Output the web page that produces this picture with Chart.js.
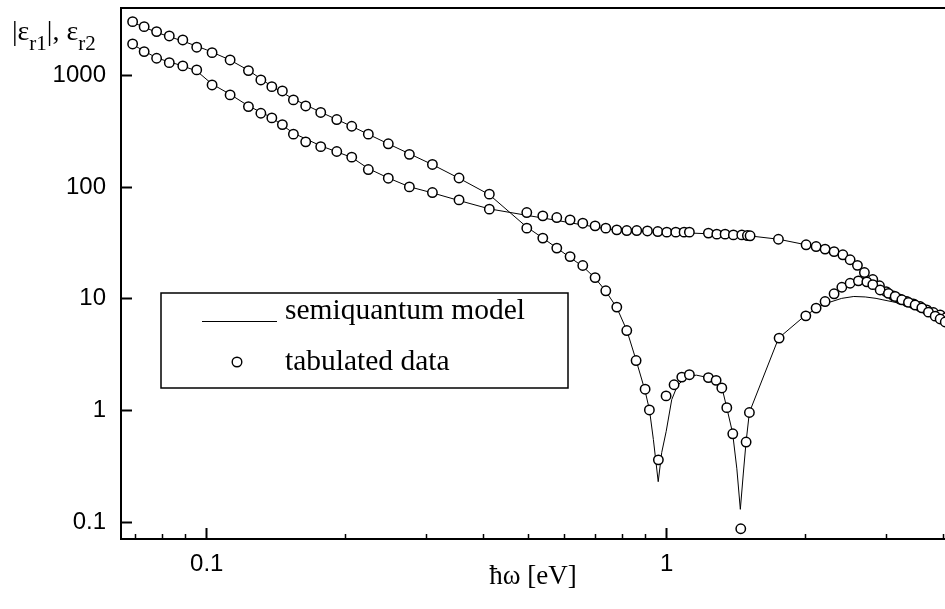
<!DOCTYPE html>
<html>
<head>
<meta charset="utf-8">
<script src="https://cdn.jsdelivr.net/npm/chart.js@4.4.1/dist/chart.umd.min.js"></script>
<style>
html,body{margin:0;padding:0;background:#fff;overflow:hidden}
canvas{display:block}
</style>
</head>
<body>
<canvas id="c" width="945" height="609"></canvas>
<script>
// ---- data (photon energy in eV) ----
const eps1Energy = [0.0690,0.0731,0.0778,0.0829,0.0887,0.0951,0.1027,0.1124,0.1232,0.1311,0.1385,0.1460,0.1543,0.1641,0.1769,0.1917,0.2066,0.2245,0.2481,0.2757,0.3094,0.3535,0.4114,0.4962,0.5376,0.5766,0.6163,0.6567,0.6985,0.7369,0.7786,0.8185,0.8576,0.8972,0.9166,0.9588,0.9965,1.0372,1.0780,1.1198,1.2315,1.2800,1.3170,1.3503,1.3914,1.4481,1.4874,1.5121,1.7545,2.0055,2.1115,2.2085,2.3102,2.4017,2.5032,2.6093,2.7216,2.8043,2.9092,3.0326,3.1365,3.2436,3.3523,3.4666,3.5843,3.7053,3.8318,3.9285,4.03];
const eps1Values = [3046,2748,2479,2267,2087,1797,1607,1382,1109,915,797,729,606,535,468,404,352,299,245,197,160,121,86.7,43.0,35.0,28.5,23.9,19.9,15.5,11.8,8.43,5.20,2.80,1.55,1.01,0.361,1.35,1.70,1.99,2.09,1.97,1.86,1.59,1.06,0.618,0.0871,0.521,0.959,4.45,7.04,8.26,9.46,11.1,12.7,13.8,14.5,14.2,13.4,12.0,11.2,10.5,9.8,9.3,8.8,8.3,7.6,7.0,6.6,6.2];

const eps2Energy = [0.0690,0.0731,0.0778,0.0829,0.0887,0.0951,0.1027,0.1124,0.1232,0.1311,0.1385,0.1460,0.1543,0.1641,0.1769,0.1917,0.2066,0.2245,0.2481,0.2757,0.3094,0.3535,0.4114,0.4962,0.5376,0.5766,0.6163,0.6567,0.6985,0.7369,0.7786,0.8185,0.8604,0.9076,0.9560,1.0000,1.0461,1.0904,1.1198,1.2315,1.2844,1.3389,1.3956,1.4555,1.4969,1.5173,1.7486,2.0085,2.1115,2.2085,2.3102,2.4140,2.5032,2.5966,2.6890,2.8043,2.8993,2.9978,3.1098,3.2160,3.3256,3.4370,3.5536,3.6744,3.7976,3.9285,4.05];
const eps2Values = [1923,1641,1431,1307,1222,1125,825,672,528,460,418,364,299,255,231,209,186,144,120.5,100.7,89.6,77.0,63.6,59.3,55.4,53.5,51.0,47.6,45.1,43.0,41.5,40.9,40.9,40.6,40.1,39.6,39.6,39.6,39.6,38.8,38.0,38.0,37.4,37.4,36.9,36.7,34.2,30.5,29.4,27.9,26.5,24.8,22.4,19.95,17.2,14.9,13.1,11.6,10.6,9.95,9.46,9.02,8.53,7.97,7.54,7.19,6.8];

const model1Energy = [0.069,0.078,0.089,0.100,0.112,0.123,0.138,0.154,0.177,0.207,0.248,0.309,0.354,0.411,0.496,0.538,0.577,0.616,0.657,0.699,0.737,0.779,0.819,0.858,0.897,0.917,0.935,0.958,0.975,0.997,1.025,1.054,1.09,1.12,1.16,1.23,1.28,1.32,1.35,1.39,1.42,1.445,1.467,1.487,1.512,1.75,2.0,2.2,2.4,2.55,2.7,2.85,2.95,3.1,3.25,3.4,3.6,3.8,4.05];
const model1Values = [3000,2430,2030,1700,1390,1120,810,620,470,350,245,160,120,86,44,35,28.5,23.5,19.5,15.3,11.7,8.3,5.2,2.8,1.5,1.01,0.55,0.23,0.42,0.65,1.25,1.66,1.92,2.04,2.07,1.97,1.84,1.56,1.06,0.63,0.30,0.13,0.275,0.52,0.96,4.45,7.1,9.0,10.1,10.5,10.4,10.1,9.8,9.4,9.0,8.6,8.0,7.3,6.5];

const model2Energy = [0.069,0.0778,0.0887,0.0951,0.1027,0.1124,0.1232,0.1385,0.1543,0.1769,0.2066,0.2245,0.2481,0.2757,0.3094,0.3535,0.4114,0.4962,0.5376,0.5766,0.6163,0.6567,0.6985,0.7369,0.7786,0.82,0.9,1.0,1.12,1.23,1.34,1.45,1.52,1.75,2.0,2.2,2.4,2.5,2.6,2.69,2.8,2.9,3.0,3.11,3.22,3.33,3.44,3.55,3.67,3.8,3.93,4.05];
const model2Values = [1900,1440,1220,1100,840,680,535,420,305,235,185,147,121,101,89,76,64,56,53,50.5,48,46,44,42.5,41.3,40.6,40.0,39.4,38.9,38.3,37.7,37.1,36.6,34.2,30.6,28.0,24.9,22.5,20.0,17.3,15.0,13.1,11.6,10.6,9.9,9.4,9.0,8.5,8.0,7.5,7.1,6.7];

const xMajorTicks = [0.1, 1];
const xMajorLabels = ['0.1', '1'];
const xMinorTicks = [0.07,0.08,0.09,0.2,0.3,0.4,0.5,0.6,0.7,0.8,0.9,2,3,4];
const yTicks = [0.1, 1, 10, 100, 1000];
const yTickLabels = ['0.1', '1', '10', '100', '1000'];
const xMin = 0.0651, xMax = 4.025;
const yMin = 0.0705, yMax = 4036;
const xTitle = 'ħω [eV]';
const legendLabels = ['semiquantum model', 'tabulated data'];
const yTitleParts = [['|ε', 'r1'], ['|, ε', 'r2']];

const SERIF = '"Liberation Serif", "Times New Roman", serif';
const SANS = '"Liberation Sans", Arial, sans-serif';

const pts = (xs, ys) => xs.map((x, i) => ({x: x, y: ys[i]}));
const noPad = s => { s.paddingTop = 0; s.paddingBottom = 0; s.paddingLeft = 0; s.paddingRight = 0; };

const circleStyle = {
  showLine: false, pointRadius: 4.7, pointHoverRadius: 4.7, pointBorderWidth: 1.5,
  pointBackgroundColor: '#fff', pointBorderColor: '#000', pointStyle: 'circle'
};
const lineStyle = {
  type: 'line', showLine: true, borderColor: '#000', borderWidth: 1, pointRadius: 0,
  tension: 0, fill: false
};

const boxLegend = {
  id: 'boxLegend',
  afterDatasetsDraw(chart, args, o) {
    const ctx = chart.ctx, a = chart.chartArea;
    const x0 = a.left + o.left, y0 = a.top + o.top;
    ctx.save();
    ctx.fillStyle = '#fff';
    ctx.fillRect(x0, y0, o.width, o.height);
    ctx.strokeStyle = '#000';
    ctx.lineWidth = 1.5;
    ctx.strokeRect(x0, y0, o.width, o.height);
    // line sample
    ctx.lineWidth = 1;
    ctx.beginPath();
    ctx.moveTo(x0 + 41, y0 + 28.5);
    ctx.lineTo(x0 + 116, y0 + 28.5);
    ctx.stroke();
    // circle sample
    ctx.lineWidth = 1.4;
    ctx.beginPath();
    ctx.arc(x0 + 76, y0 + 69, 4.8, 0, Math.PI * 2);
    ctx.fillStyle = '#fff';
    ctx.fill();
    ctx.stroke();
    ctx.fillStyle = '#000';
    ctx.font = '29.5px ' + SERIF;
    ctx.textBaseline = 'alphabetic';
    ctx.textAlign = 'left';
    ctx.fillText(legendLabels[0], x0 + 124, y0 + 26);
    ctx.fillText(legendLabels[1], x0 + 124, y0 + 77);
    ctx.restore();
  }
};

const yTitlePlugin = {
  id: 'yTitle',
  afterDraw(chart) {
    const ctx = chart.ctx;
    ctx.save();
    ctx.fillStyle = '#000';
    ctx.textBaseline = 'alphabetic';
    ctx.textAlign = 'left';
    let x = 12;
    const base = 40;
    yTitleParts.forEach(([main, sub], k) => {
      ctx.font = '28px ' + SERIF;
      ctx.fillText(main, x, base);
      x += ctx.measureText(main).width;
      ctx.font = '21px ' + SERIF;
      ctx.fillText(sub, x, base + 10);
      x += ctx.measureText(sub).width;
    });
    ctx.restore();
  }
};

new Chart(document.getElementById('c'), {
  type: 'scatter',
  data: {
    datasets: [
      Object.assign({label: 'tabulated |εr1|', data: pts(eps1Energy, eps1Values)}, circleStyle),
      Object.assign({label: 'tabulated εr2', data: pts(eps2Energy, eps2Values)}, circleStyle),
      Object.assign({label: 'model |εr1|', data: pts(model1Energy, model1Values)}, lineStyle),
      Object.assign({label: 'model εr2', data: pts(model2Energy, model2Values)}, lineStyle)
    ]
  },
  options: {
    responsive: false,
    animation: false,
    events: [],
    layout: {padding: 0, autoPadding: false},
    plugins: {
      legend: {display: false},
      tooltip: {enabled: false},
      boxLegend: {left: 40, top: 285, width: 407, height: 95}
    },
    scales: {
      x: {
        type: 'logarithmic', position: 'bottom', weight: 1, min: xMin, max: xMax,
        afterFit: s => { s.height = 70; noPad(s); },
        afterBuildTicks: s => { s.ticks = xMajorTicks.map(v => ({value: v})); },
        ticks: {autoSkip: false, maxRotation: 0, padding: 22, color: '#000',
                font: {family: SANS, size: 24}, callback: (v, i) => xMajorLabels[i]},
        grid: {drawOnChartArea: false, drawTicks: true, tickLength: -11, tickWidth: 2, tickColor: '#000'},
        border: {display: true, color: '#000', width: 2},
        title: {display: true, text: xTitle, color: '#000', font: {family: SERIF, size: 27},
                padding: {top: 0, bottom: 16}}
      },
      xMinor: {
        type: 'logarithmic', position: 'bottom', weight: 0, min: xMin, max: xMax,
        afterFit: s => { s.height = 0; noPad(s); },
        afterBuildTicks: s => { s.ticks = xMinorTicks.map(v => ({value: v})); },
        ticks: {display: false, autoSkip: false},
        grid: {drawOnChartArea: false, drawTicks: true, tickLength: -5, tickWidth: 1.5, tickColor: '#000'},
        border: {display: false}
      },
      xTop: {
        type: 'logarithmic', position: 'top', min: xMin, max: xMax,
        afterFit: s => { s.height = 8; noPad(s); },
        ticks: {display: false},
        grid: {display: false},
        border: {display: true, color: '#000', width: 2}
      },
      y: {
        type: 'logarithmic', position: 'left', min: yMin, max: yMax,
        afterFit: s => { s.width = 121; noPad(s); },
        afterBuildTicks: s => { s.ticks = yTicks.map(v => ({value: v})); },
        ticks: {autoSkip: false, padding: 26, color: '#000',
                font: {family: SANS, size: 24}, callback: (v, i) => yTickLabels[i]},
        grid: {drawOnChartArea: false, drawTicks: true, tickLength: -11, tickWidth: 2, tickColor: '#000'},
        border: {display: true, color: '#000', width: 2}
      }
    }
  },
  plugins: [boxLegend, yTitlePlugin]
});
</script>
</body>
</html>
